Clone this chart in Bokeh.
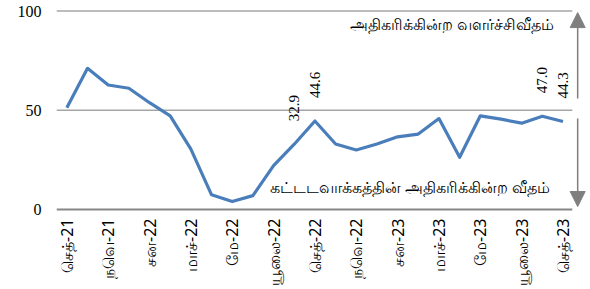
import math
from bokeh.plotting import figure
from bokeh.models import Range1d, FixedTicker, Arrow, NormalHead, ColumnDataSource
from bokeh.core.properties import value
from bokeh.embed import file_html
from bokeh.resources import INLINE

# ---- data ----
month_index = list(range(25))  # Sep-21 .. Sep-23
growth = [51.3, 71.1, 62.7, 61.1, 53.8, 47.2, 30.4, 7.4, 4.0, 7.0, 22.1, 32.9,
          44.6, 33.0, 30.0, 33.0, 36.6, 38.0, 45.8, 26.3, 47.2, 45.5, 43.5, 47.0, 44.3]
tick_labels = ["செத்-21", "நவெ-21", "சன-22", "மாச்-22", "மே-22", "யூலை-22",
               "செத்-22", "நவெ-22", "சன-23", "மாச்-23", "மே-23", "யூலை-23", "செத்-23"]
tick_positions = [2 * i for i in range(len(tick_labels))]
y_ticks = [0, 50, 100]
label_idx = [11, 12, 23, 24]
label_txt = ["32.9", "44.6", "47.0", "44.3"]
note_top = "அதிகரிக்கின்ற  வளர்ச்சிவீதம்"
note_bottom = "கட்டடவாக்கத்தின்  அதிகரிக்கின்ற  வீதம்"

GRAY = "#A6A6A6"
AXIS = "#868686"
ARROW = "#7F7F7F"
BLUE = "#4A7EBB"
SERIF = "Liberation Serif"
TAMIL = "Noto Sans"

p = figure(frame_width=534, frame_height=212, output_backend="svg", toolbar_location=None,
           x_range=Range1d(-0.5, 25.33), y_range=Range1d(-1.51, 105.29),
           min_border_left=56, min_border_right=0, min_border_top=0, min_border_bottom=77)
p.outline_line_color = None
p.xgrid.visible = False
p.ygrid.visible = False

# gridlines & zero axis line
p.segment(x0=[-0.5, -0.5], x1=[24.45, 24.45], y0=y_ticks[1:], y1=y_ticks[1:],
          line_color=GRAY, line_width=1.6)
p.segment(x0=[-0.5], x1=[24.45], y0=[0], y1=[0], line_color=AXIS, line_width=2)

# series
p.line(month_index, growth, line_color=BLUE, line_width=3.2, line_join="round")

# data labels
src = ColumnDataSource(dict(x=[month_index[i] for i in label_idx],
                            y=[growth[i] for i in label_idx], t=label_txt))
p.text(x="x", y="y", text="t", source=src, angle=math.pi / 2, y_offset=-23,
       text_align="left", text_baseline="middle", text_font=value(SERIF),
       text_font_size="15px", text_color="#000000")

# notes
p.text(x=[23.75], y=[93.2], text=[note_top], text_align="right", text_baseline="middle",
       text_font=value(TAMIL), text_font_size="15.6px", text_color="#000000")
p.text(x=[23.75], y=[11.1], text=[note_bottom], text_align="right", text_baseline="middle",
       text_font=value(TAMIL), text_font_size="15.6px", text_color="#000000")

# arrows
ax = 24.71
p.add_layout(Arrow(end=NormalHead(size=15, fill_color=ARROW, line_color=ARROW),
                   x_start=ax, y_start=55.9, x_end=ax, y_end=99.2,
                   line_color=ARROW, line_width=1.5))
p.add_layout(Arrow(end=NormalHead(size=15, fill_color=ARROW, line_color=ARROW),
                   x_start=ax, y_start=45.8, x_end=ax, y_end=1.5,
                   line_color=ARROW, line_width=1.5))

# axes
p.xaxis.ticker = FixedTicker(ticks=tick_positions)
p.xaxis.major_label_overrides = {pos: lab for pos, lab in zip(tick_positions, tick_labels)}
p.xaxis.major_label_orientation = math.pi / 2
p.xaxis.axis_line_color = None
p.xaxis.major_tick_line_color = None
p.xaxis.minor_tick_line_color = None
p.xaxis.major_tick_out = 0
p.xaxis.major_label_standoff = 6
p.xaxis.major_label_text_font = TAMIL
p.xaxis.major_label_text_font_size = "16px"
p.xaxis.major_label_text_color = "#000000"

p.yaxis.ticker = FixedTicker(ticks=y_ticks)
p.yaxis.axis_line_color = None
p.yaxis.major_tick_line_color = None
p.yaxis.minor_tick_line_color = None
p.yaxis.major_tick_out = 0
p.yaxis.major_label_standoff = 15
p.yaxis.major_label_text_font = SERIF
p.yaxis.major_label_text_font_size = "16px"
p.yaxis.major_label_text_color = "#000000"

open("out.html", "w").write(file_html(p, INLINE))
